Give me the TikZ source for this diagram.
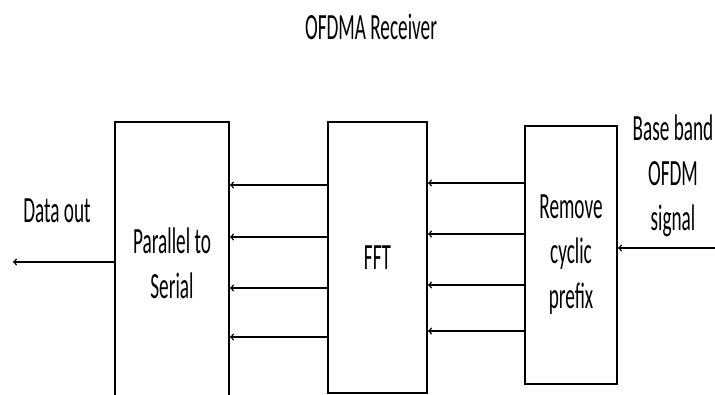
\documentclass[tikz,border=0pt]{standalone}
\usepackage{fontspec}
\setmainfont{Carlito}[FakeStretch=0.52]
\usepackage{tikz}

\tikzset{
  blk/.style={draw, line width=2pt, anchor=north west, align=center, inner sep=0pt},
  lbl/.style={align=center},
  txt/.style={font=\fontsize{37}{45}\selectfont}
}

\begin{document}
\begin{tikzpicture}[x=1pt,y=-1pt,txt]
  \clip (0,0) rectangle (715,394);
  \node[lbl] (title) at (371,27) {OFDMA Receiver};
  \node[blk, minimum width=114pt, minimum height=282pt] (p2s) at (114,121) {Parallel to\\Serial};
  \node[blk, minimum width=99pt, minimum height=271pt] (fft) at (327,121) {FFT};
  \node[blk, minimum width=92pt, minimum height=258pt] (rcp) at (524,125) {Remove\\cyclic\\prefix};
  \node[lbl] (dout) at (57,211) {Data out};
  \node[lbl] (bb) at (673,176) {Base band\\OFDM\\signal};
  \coordinate (in) at (715,248);
  \coordinate (out) at (13,262);
  % parallel branches
  \foreach \y in {185,237,288,337}
    \draw[->, line width=1.5pt] (fft.west |- 0,\y) -- (p2s.east |- 0,\y);
  \foreach \y in {183,234,285,331}
    \draw[->, line width=1.5pt] (rcp.west |- 0,\y) -- (fft.east |- 0,\y);
  \path[->, line width=1.5pt]
    (in) edge (rcp.east |- in)
    (p2s.west |- out) edge (out);
\end{tikzpicture}
\end{document}
